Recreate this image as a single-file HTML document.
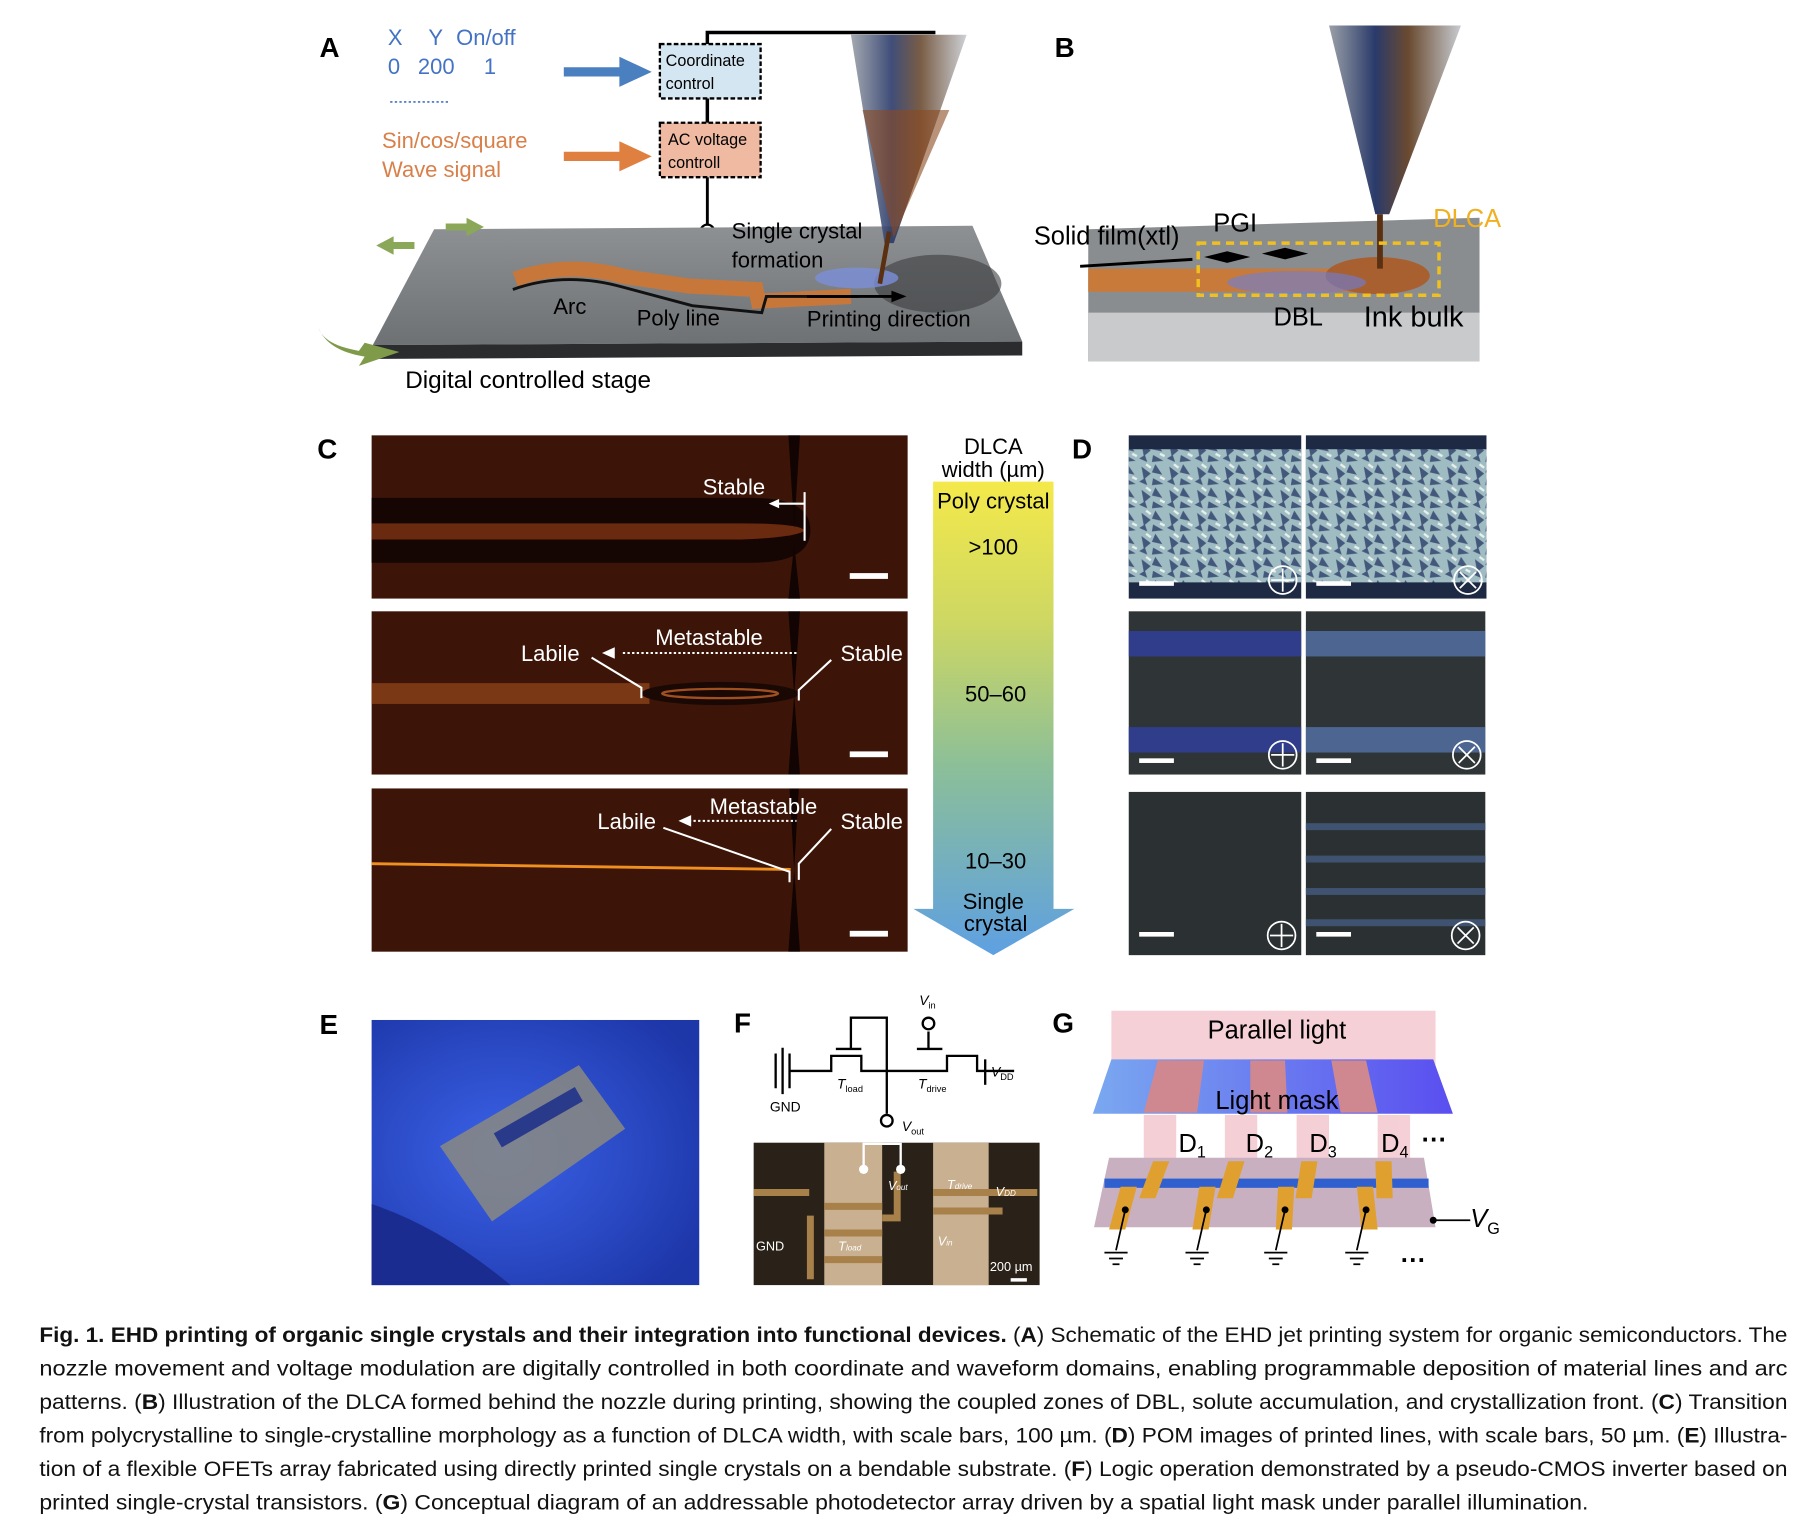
<!DOCTYPE html>
<html><head><meta charset="utf-8"><style>html,body{margin:0;padding:0;background:#fff}svg{display:block}</style></head>
<body>
<svg width="1806" height="1519" viewBox="0 0 1560 1312" xmlns="http://www.w3.org/2000/svg" font-family="Liberation Sans, Arial, sans-serif">
<defs>
<linearGradient id="stage" x1="0" y1="0" x2="0" y2="1"><stop offset="0" stop-color="#8e9194"/><stop offset="1" stop-color="#6e7174"/></linearGradient>
<linearGradient id="cone" x1="0" y1="0" x2="1" y2="0"><stop offset="0" stop-color="#9aa0a8"/><stop offset=".35" stop-color="#2a3a6a"/><stop offset=".6" stop-color="#6a4a30"/><stop offset="1" stop-color="#c8ccd2"/></linearGradient>
<linearGradient id="grad" x1="0" y1="0" x2="0" y2="1"><stop offset="0" stop-color="#f4e94a"/><stop offset=".3" stop-color="#cdd763"/><stop offset=".6" stop-color="#8cbf98"/><stop offset="1" stop-color="#5ea0e2"/></linearGradient>
<linearGradient id="mask" x1="0" y1="0" x2="1" y2="0"><stop offset="0" stop-color="#7aa8f0"/><stop offset="1" stop-color="#5a4ef0"/></linearGradient>
<radialGradient id="glove" cx=".4" cy=".5" r=".7"><stop offset="0" stop-color="#3b62e8"/><stop offset="1" stop-color="#1d36a8"/></radialGradient>
<pattern id="cry" width="24" height="20" patternUnits="userSpaceOnUse"><rect width="24" height="20" fill="#9fbcc2"/><path d="M2 3l8 6-6 5zM14 1l6 9-9-2zM12 13l9 5-10 1zM0 16l5-3 2 6z" fill="#2d3e6a" opacity=".8"/><path d="M6 1l4 3M18 12l4 2" stroke="#e8f0ee" stroke-width="2"/></pattern>
</defs>

<!-- Panel A -->
<text x="276" y="49" font-size="24" font-weight="bold">A</text>
<g fill="#4472c4" font-size="19"><text x="335" y="39">X</text><text x="370" y="39">Y</text><text x="394" y="39">On/off</text>
<text x="335" y="64">0</text><text x="361" y="64">200</text><text x="418" y="64">1</text></g>
<line x1="337" y1="88" x2="388" y2="88" stroke="#4472c4" stroke-width="1.5" stroke-dasharray="2 2"/>
<g fill="#d9804a" font-size="19"><text x="330" y="128">Sin/cos/square</text><text x="330" y="153">Wave signal</text></g>
<path d="M487 58h48v-9l28 13-28 13v-9h-48z" fill="#4a7fc0"/>
<path d="M487 131h48v-9l28 13-28 13v-9h-48z" fill="#e08040"/>
<path d="M611 38V28h197" fill="none" stroke="#000" stroke-width="3"/>
<line x1="611" y1="85" x2="611" y2="106" stroke="#000" stroke-width="3"/>
<line x1="611" y1="153" x2="611" y2="194" stroke="#000" stroke-width="2.5"/>
<circle cx="611" cy="200" r="6" fill="#fff" stroke="#000" stroke-width="2"/>
<rect x="570" y="38" width="87" height="47" fill="#d5e6f3" stroke="#000" stroke-width="2" stroke-dasharray="4 2"/>
<text x="575" y="57" font-size="14">Coordinate</text><text x="575" y="77" font-size="14">control</text>
<rect x="570" y="106" width="87" height="47" fill="#efb9a2" stroke="#000" stroke-width="2" stroke-dasharray="4 2"/>
<text x="577" y="125" font-size="14">AC voltage</text><text x="577" y="145" font-size="14">controll</text>
<polygon points="375,198 840,195 883,295 322,298" fill="url(#stage)"/>
<polygon points="322,298 883,295 883,307 322,310" fill="#2a2c2e"/>
<ellipse cx="810" cy="245" rx="55" ry="25" fill="#3a3c3e" opacity=".6"/>
<path d="M310 303q-30-5-35-20 8 20 40 25l-5 8 35-12-30-8z" fill="#7f9b4a"/>
<path d="M325 212l15-8v5h18v6h-18v5z" fill="#8aa857"/>
<path d="M385 193h18v-5l15 8-15 8v-5h-18z" fill="#8aa857"/>
<path d="M445 241q45-16 95-2l55 8 58 3 2 10 80-4" fill="none" stroke="#c8773a" stroke-width="13"/>
<path d="M443 250q45-16 95-2l60 16 60 6 4-14 80 0" fill="none" stroke="#111" stroke-width="2.5"/>
<ellipse cx="740" cy="240" rx="36" ry="9" fill="#7a8fd8" opacity=".8"/>
<polygon points="735,30 835,30 772,210 764,210" fill="url(#cone)" opacity=".9"/>
<polygon points="745,95 820,95 772,205" fill="#8a4a22" opacity=".6"/>
<line x1="768" y1="200" x2="760" y2="245" stroke="#5a3010" stroke-width="4"/>
<line x1="697" y1="256" x2="772" y2="256" stroke="#000" stroke-width="2.5"/><path d="M783 256l-13-5v10z"/>
<g font-size="19"><text x="632" y="206">Single crystal</text><text x="632" y="231">formation</text>
<text x="478" y="271">Arc</text><text x="550" y="281">Poly line</text><text x="697" y="282">Printing direction</text>
<text x="350" y="335" font-size="21">Digital controlled stage</text></g>

<!-- Panel B -->
<text x="911" y="49" font-size="24" font-weight="bold">B</text>
<polygon points="940,198 1278,188 1278,312 940,312" fill="#8a8d90"/>
<rect x="940" y="270" width="338" height="42" fill="#c8cacc"/>
<rect x="940" y="232" width="250" height="20" fill="#c87a3a"/>
<ellipse cx="1190" cy="238" rx="45" ry="16" fill="#a86030"/>
<ellipse cx="1120" cy="244" rx="60" ry="10" fill="#6a7fd8" opacity=".6"/>
<polygon points="1148,22 1262,22 1200,185 1188,185" fill="url(#cone)"/>
<line x1="1192" y1="185" x2="1192" y2="232" stroke="#5a3010" stroke-width="5"/>
<rect x="1035" y="210" width="208" height="45" fill="none" stroke="#f0c020" stroke-width="3" stroke-dasharray="7 5"/>
<line x1="933" y1="230" x2="1030" y2="224" stroke="#000" stroke-width="2.5"/>
<path d="M1040 222l20-5v10zM1080 222l-20-5v10zM1090 219l20-5v10zM1130 219l-20-5v10z"/>
<g font-size="22"><text x="893" y="211">Solid film(xtl)</text><text x="1048" y="200">PGI</text>
<text x="1238" y="196" fill="#f0b020">DLCA</text><text x="1100" y="281">DBL</text><text x="1178" y="282" font-size="25">Ink bulk</text></g>

<!-- Panel C -->
<text x="274" y="396" font-size="24" font-weight="bold">C</text>
<rect x="321" y="376" width="463" height="141" fill="#3c1508"/>
<path d="M321 430H650q50 0 50 28t-50 28H321z" fill="#150603"/>
<path d="M321 452H640q50 0 55 6-5 6-55 8H321z" fill="#6a2a10"/>
<path d="M681 376h10l-5 80zM686 470l5 47h-10z" fill="#120402"/>
<rect x="321" y="528" width="463" height="141" fill="#3c1508"/>
<rect x="321" y="590" width="240" height="18" fill="#7a3814"/>
<ellipse cx="622" cy="599" rx="68" ry="10" fill="#1a0804"/><ellipse cx="622" cy="599" rx="50" ry="4" fill="none" stroke="#a05020" stroke-width="2"/>
<path d="M681 528h10l-5 72zM686 600l5 69h-10z" fill="#120402"/>
<rect x="321" y="681" width="463" height="141" fill="#3c1508"/>
<line x1="321" y1="746" x2="683" y2="751" stroke="#f09020" stroke-width="2.5"/>
<path d="M682 681h8l-4 70zM686 751l5 71h-10z" fill="#120402"/>
<g fill="#fff"><rect x="734" y="495" width="33" height="5"/><rect x="734" y="649" width="33" height="5"/><rect x="734" y="804" width="33" height="5"/></g>
<g stroke="#fff" stroke-width="1.8" fill="none">
<path d="M695 425v42M695 435h-24"/><path d="M511 568l43 26v9M718 570l-28 26v9"/><path d="M538 564h150" stroke-dasharray="2 2"/>
<path d="M573 715l109 38v9M718 716l-28 30v14"/><path d="M595 709h93" stroke-dasharray="2 2"/></g>
<g fill="#fff"><path d="M664 435l9-4v8z"/><path d="M520 564l11-5v10z"/><path d="M586 709l11-5v10z"/></g>
<g fill="#fff" font-size="19"><text x="607" y="427">Stable</text><text x="566" y="557">Metastable</text><text x="450" y="571">Labile</text><text x="726" y="571">Stable</text>
<text x="613" y="703">Metastable</text><text x="516" y="716">Labile</text><text x="726" y="716">Stable</text></g>
<path d="M806 416h104v369h18l-70 40-69-40h17z" fill="url(#grad)"/>
<g font-size="19" text-anchor="middle"><text x="858" y="392">DLCA</text><text x="858" y="412">width (µm)</text><text x="858" y="439">Poly crystal</text>
<text x="858" y="479">&gt;100</text><text x="860" y="606">50–60</text><text x="860" y="750">10–30</text><text x="858" y="785">Single</text><text x="860" y="804">crystal</text></g>

<!-- Panel D -->
<text x="926" y="396" font-size="24" font-weight="bold">D</text>
<g><rect x="975" y="376" width="149" height="141" fill="#1e2a44"/><rect x="975" y="388" width="149" height="115" fill="url(#cry)"/>
<rect x="1128" y="376" width="156" height="141" fill="#1e2a44"/><rect x="1128" y="388" width="156" height="115" fill="url(#cry)"/>
<rect x="975" y="528" width="149" height="141" fill="#2f3536"/><rect x="975" y="545" width="149" height="22" fill="#3040a0" opacity=".8"/><rect x="975" y="628" width="149" height="22" fill="#3040a0" opacity=".8"/>
<rect x="1128" y="528" width="155" height="141" fill="#2f3536"/><rect x="1128" y="545" width="155" height="22" fill="#5a7ab8" opacity=".7"/><rect x="1128" y="628" width="155" height="22" fill="#5a7ab8" opacity=".7"/>
<rect x="975" y="684" width="149" height="141" fill="#2b3132"/>
<rect x="1128" y="684" width="155" height="141" fill="#2b3132"/>
<g fill="#3f5270"><rect x="1128" y="711" width="155" height="6"/><rect x="1128" y="739" width="155" height="6"/><rect x="1128" y="767" width="155" height="6"/><rect x="1128" y="794" width="155" height="6"/></g></g>
<g fill="#fff"><rect x="984" y="502" width="30" height="4"/><rect x="1137" y="502" width="30" height="4"/><rect x="984" y="655" width="30" height="4"/><rect x="1137" y="655" width="30" height="4"/><rect x="984" y="805" width="30" height="4"/><rect x="1137" y="805" width="30" height="4"/></g>
<g stroke="#fff" stroke-width="1.5" fill="none">
<circle cx="1108" cy="501" r="12"/><path d="M1108 491v20M1098 501h20"/><circle cx="1268" cy="501" r="12"/><path d="M1261 494l14 14M1275 494l-14 14"/>
<circle cx="1108" cy="652" r="12"/><path d="M1108 642v20M1098 652h20"/><circle cx="1267" cy="652" r="12"/><path d="M1260 645l14 14M1274 645l-14 14"/>
<circle cx="1107" cy="808" r="12"/><path d="M1107 798v20M1097 808h20"/><circle cx="1266" cy="808" r="12"/><path d="M1259 801l14 14M1273 801l-14 14"/></g>

<!-- Panel E -->
<text x="276" y="893" font-size="24" font-weight="bold">E</text>
<rect x="321" y="881" width="283" height="229" fill="url(#glove)"/>
<path d="M380 990l120-70 40 55-115 80z" fill="#8a8a80" opacity=".85"/>
<path d="M430 985l70-40" stroke="#2a3a8a" stroke-width="14"/>
<path d="M321 1040q60 20 120 70H321z" fill="#1a2c90"/>

<!-- Panel F -->
<text x="634" y="892" font-size="24" font-weight="bold">F</text>
<g stroke="#000" stroke-width="2" fill="none">
<path d="M670 910v30M676 905v40M682 910v30M682 925h36v-13h26v13h74v-13h26v13h32"/><path d="M851 915v22"/>
<path d="M722 906h22M735 906v-27h31v83"/><path d="M792 906h22M802 906v-15"/></g>
<circle cx="802" cy="884" r="5" fill="#fff" stroke="#000" stroke-width="2"/><circle cx="766" cy="968" r="5" fill="#fff" stroke="#000" stroke-width="2"/>
<g font-size="12" font-style="italic"><text x="794" y="868">V<tspan font-size="8" dy="3" font-style="normal">in</tspan></text>
<text x="723" y="940">T<tspan font-size="8" dy="3" font-style="normal">load</tspan></text><text x="793" y="940">T<tspan font-size="8" dy="3" font-style="normal">drive</tspan></text>
<text x="856" y="930">V<tspan font-size="8" dy="3" font-style="normal">DD</tspan></text><text x="779" y="977">V<tspan font-size="8" dy="3" font-style="normal">out</tspan></text></g>
<text x="665" y="960" font-size="12">GND</text>
<rect x="651" y="987" width="247" height="123" fill="#2a2218"/>
<rect x="712" y="987" width="50" height="123" fill="#c8b090"/><rect x="806" y="987" width="48" height="123" fill="#c8b090"/>
<g stroke="#a8804a" stroke-width="6" fill="none"><path d="M651 1030h48M700 1050v55M712 1042h50M712 1065h50M712 1088h50M806 1030h90M806 1046h60M775 1012v40h-13"/></g>
<path d="M746 1010v-22h32v22" fill="none" stroke="#fff" stroke-width="2"/><circle cx="746" cy="1010" r="4" fill="#fff"/><circle cx="778" cy="1010" r="4" fill="#fff"/>
<g fill="#fff" font-size="11"><text x="653" y="1080">GND</text><text x="767" y="1028" font-style="italic">V<tspan font-size="7">out</tspan></text><text x="818" y="1027" font-style="italic">T<tspan font-size="7">drive</tspan></text>
<text x="860" y="1033" font-style="italic">V<tspan font-size="7">DD</tspan></text><text x="724" y="1080" font-style="italic">T<tspan font-size="7">load</tspan></text><text x="810" y="1076" font-style="italic">V<tspan font-size="7">in</tspan></text><text x="855" y="1098">200 µm</text></g>
<rect x="873" y="1104" width="14" height="3" fill="#fff"/>

<!-- Panel G -->
<text x="909" y="892" font-size="24" font-weight="bold">G</text>
<rect x="960" y="873" width="280" height="50" fill="#f2c4cc" opacity=".8"/>
<polygon points="960,915 1238,915 1255,962 944,962" fill="url(#mask)"/>
<g fill="#d08890"><polygon points="1000,916 1040,916 1034,961 988,961"/><polygon points="1080,916 1110,916 1112,961 1080,961"/><polygon points="1150,916 1180,916 1190,961 1158,961"/></g>
<g fill="#f2c4cc" opacity=".8"><rect x="988" y="963" width="28" height="38"/><rect x="1058" y="963" width="28" height="38"/><rect x="1120" y="963" width="28" height="38"/><rect x="1190" y="963" width="28" height="38"/></g>
<polygon points="958,1000 1230,1000 1240,1060 945,1060" fill="#c8b0c0"/>
<rect x="954" y="1018" width="280" height="8" fill="#3060d0"/>
<g fill="#e0a030"><polygon points="996,1003 1010,1003 998,1035 984,1035"/><polygon points="1061,1003 1075,1003 1065,1035 1051,1035"/><polygon points="1124,1003 1138,1003 1133,1035 1119,1035"/><polygon points="1188,1003 1202,1003 1203,1035 1189,1035"/>
<polygon points="968,1025 982,1025 972,1062 958,1062"/><polygon points="1036,1025 1050,1025 1044,1062 1030,1062"/><polygon points="1104,1025 1118,1025 1116,1062 1102,1062"/><polygon points="1172,1025 1186,1025 1190,1062 1176,1062"/></g>
<g stroke="#000" stroke-width="1.5" fill="none"><path d="M972 1045l-8 35M1042 1045l-8 35M1110 1045l-8 35M1180 1045l-8 35M1238 1054h32"/>
<path d="M954 1082h20M958 1087h12M961 1092h6M1024 1082h20M1028 1087h12M1031 1092h6M1092 1082h20M1096 1087h12M1099 1092h6M1162 1082h20M1166 1087h12M1169 1092h6"/></g>
<g fill="#000"><circle cx="972" cy="1045" r="3"/><circle cx="1042" cy="1045" r="3"/><circle cx="1110" cy="1045" r="3"/><circle cx="1180" cy="1045" r="3"/><circle cx="1238" cy="1054" r="3"/></g>
<g font-size="22"><text x="1103" y="897" text-anchor="middle">Parallel light</text><text x="1103" y="958" text-anchor="middle">Light mask</text>
<text x="1018" y="995">D<tspan font-size="14" dy="5">1</tspan></text><text x="1076" y="995">D<tspan font-size="14" dy="5">2</tspan></text><text x="1131" y="995">D<tspan font-size="14" dy="5">3</tspan></text><text x="1193" y="995">D<tspan font-size="14" dy="5">4</tspan></text>
<text x="1228" y="992" font-weight="bold">···</text><text x="1210" y="1096" font-weight="bold">···</text>
<text x="1270" y="1060" font-style="italic">V<tspan font-size="14" dy="6" font-style="normal">G</tspan></text></g>

<!-- Caption -->
<g font-size="18.5" fill="#111">
<text x="34" y="1159" textLength="1510" lengthAdjust="spacingAndGlyphs"><tspan font-weight="bold">Fig. 1. EHD printing of organic single crystals and their integration into functional devices.</tspan> (<tspan font-weight="bold">A</tspan>) Schematic of the EHD jet printing system for organic semiconductors. The</text>
<text x="34" y="1188" textLength="1510" lengthAdjust="spacingAndGlyphs">nozzle movement and voltage modulation are digitally controlled in both coordinate and waveform domains, enabling programmable deposition of material lines and arc</text>
<text x="34" y="1217" textLength="1510" lengthAdjust="spacingAndGlyphs">patterns. (<tspan font-weight="bold">B</tspan>) Illustration of the DLCA formed behind the nozzle during printing, showing the coupled zones of DBL, solute accumulation, and crystallization front. (<tspan font-weight="bold">C</tspan>) Transition</text>
<text x="34" y="1246" textLength="1510" lengthAdjust="spacingAndGlyphs">from polycrystalline to single-crystalline morphology as a function of DLCA width, with scale bars, 100 µm. (<tspan font-weight="bold">D</tspan>) POM images of printed lines, with scale bars, 50 µm. (<tspan font-weight="bold">E</tspan>) Illustra-</text>
<text x="34" y="1275" textLength="1510" lengthAdjust="spacingAndGlyphs">tion of a flexible OFETs array fabricated using directly printed single crystals on a bendable substrate. (<tspan font-weight="bold">F</tspan>) Logic operation demonstrated by a pseudo-CMOS inverter based on</text>
<text x="34" y="1304" textLength="1338" lengthAdjust="spacingAndGlyphs">printed single-crystal transistors. (<tspan font-weight="bold">G</tspan>) Conceptual diagram of an addressable photodetector array driven by a spatial light mask under parallel illumination.</text>
</g>
</svg>
</body></html>
